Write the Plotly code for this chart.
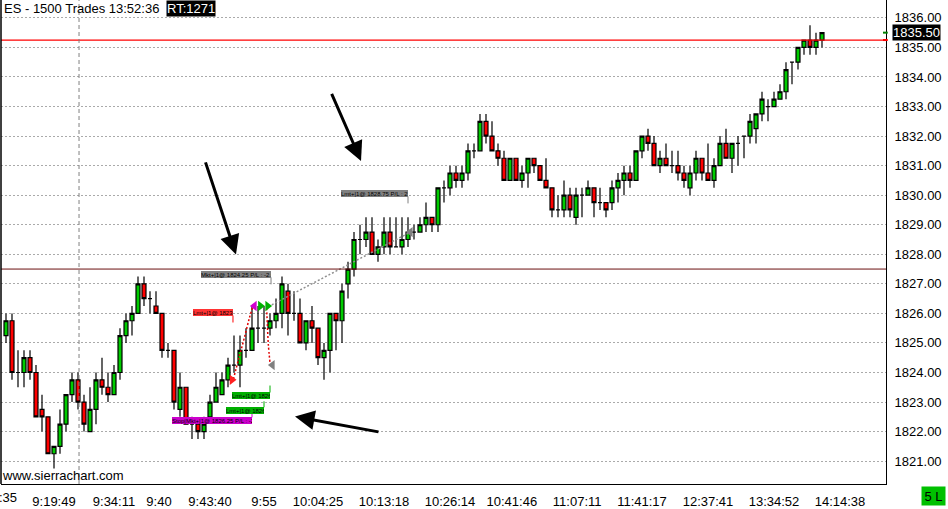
import plotly.graph_objects as go

# ---------------- data ----------------
bar_index = list(range(137))
opens = [1825.25,1825.75,1824.00,1824.00,1824.50,1824.00,1822.75,1822.50,1821.25,1821.50,
         1822.25,1823.25,1823.75,1823.00,1822.00,1822.75,1823.75,1823.50,1823.25,1824.00,
         1825.25,1825.75,1826.00,1827.00,1826.50,1826.25,1826.00,1824.75,1824.75,1822.75,
         1823.50,1822.25,1822.25,1822.00,1822.50,1823.00,1823.25,1823.75,1824.25,1824.25,
         1824.75,1824.75,1825.50,1825.50,1825.50,1825.75,1826.00,1826.75,1826.00,1826.00,
         1825.00,1825.75,1825.50,1824.50,1824.75,1826.00,1825.75,1827.00,1827.50,1828.50,
         1828.50,1828.75,1828.00,1828.25,1828.75,1828.25,1828.25,1828.50,1828.75,1828.75,
         1829.00,1829.25,1829.00,1830.25,1830.25,1830.75,1830.50,1830.75,1831.50,1831.50,
         1832.50,1832.00,1831.50,1831.25,1830.50,1831.25,1830.50,1830.75,1831.25,1831.00,
         1830.50,1830.25,1829.50,1829.50,1830.00,1829.25,1830.00,1830.00,1830.25,1829.75,
         1829.75,1829.75,1830.25,1830.50,1830.75,1830.50,1831.50,1832.00,1831.75,1831.00,
         1831.25,1831.00,1831.00,1830.75,1830.25,1830.75,1831.25,1830.75,1830.50,1831.00,
         1831.75,1831.25,1831.75,1832.00,1832.00,1832.25,1832.75,1833.00,1833.00,1833.25,
         1833.50,1834.50,1834.50,1835.00,1835.25,1835.00,1835.25]
highs = [1826.00,1826.00,1824.75,1824.75,1824.75,1824.25,1823.25,1822.50,1821.50,1822.75,
         1823.25,1824.00,1824.00,1823.25,1823.50,1824.00,1824.50,1824.00,1824.25,1825.50,
         1826.00,1826.25,1827.25,1827.25,1826.75,1826.75,1826.00,1825.00,1824.75,1824.00,
         1823.50,1822.50,1822.25,1822.50,1823.25,1824.00,1824.00,1824.50,1825.25,1825.25,
         1825.50,1826.25,1826.25,1826.25,1826.00,1826.50,1827.25,1827.00,1826.75,1826.50,
         1825.75,1826.25,1825.50,1825.00,1826.00,1826.00,1827.00,1827.75,1828.75,1829.00,
         1829.25,1829.25,1828.50,1829.25,1829.25,1829.25,1829.25,1829.25,1829.00,1829.25,
         1829.75,1829.25,1830.25,1830.50,1831.00,1831.00,1831.00,1831.75,1831.75,1832.75,
         1832.75,1832.50,1831.75,1831.50,1831.25,1831.25,1831.00,1831.25,1831.25,1831.00,
         1831.25,1830.25,1830.00,1830.50,1830.25,1830.25,1830.25,1830.50,1830.25,1830.25,
         1829.75,1830.50,1830.75,1831.00,1831.00,1831.50,1832.00,1832.25,1832.00,1831.50,
         1831.75,1831.50,1831.50,1831.00,1831.00,1831.50,1831.25,1831.75,1831.25,1832.00,
         1832.25,1831.75,1832.00,1832.00,1832.75,1832.75,1833.50,1833.25,1833.50,1833.75,
         1834.50,1834.50,1835.00,1835.25,1835.75,1835.50,1835.50]
lows = [1825.00,1823.75,1823.50,1823.50,1823.75,1822.50,1822.00,1821.25,1820.75,1821.25,
        1822.00,1823.00,1822.75,1822.00,1822.00,1822.25,1823.25,1823.00,1823.25,1823.75,
        1825.00,1825.25,1826.00,1826.25,1826.00,1826.00,1824.50,1824.50,1822.75,1822.50,
        1822.25,1821.75,1821.75,1821.75,1822.50,1823.00,1823.25,1823.50,1824.00,1823.50,
        1824.50,1824.75,1825.00,1825.00,1825.25,1825.50,1825.50,1825.25,1825.75,1825.00,
        1824.75,1825.00,1824.25,1823.75,1824.00,1824.75,1825.00,1826.50,1827.25,1828.00,
        1828.25,1828.00,1827.75,1828.00,1828.00,1828.25,1828.00,1828.25,1828.50,1828.75,
        1828.75,1828.75,1828.75,1829.75,1830.00,1830.25,1830.25,1830.50,1831.25,1831.50,
        1831.75,1831.50,1831.00,1830.50,1830.50,1830.50,1830.25,1830.25,1830.75,1830.50,
        1830.25,1829.25,1829.25,1829.25,1829.25,1829.00,1829.25,1830.00,1829.25,1829.50,
        1829.25,1829.50,1829.75,1830.00,1830.25,1830.50,1831.25,1831.50,1831.00,1830.75,
        1831.00,1830.75,1830.50,1830.25,1830.00,1830.50,1830.50,1830.50,1830.25,1831.00,
        1831.25,1830.75,1831.00,1831.25,1831.75,1831.75,1832.50,1832.50,1833.00,1833.25,
        1833.25,1833.75,1834.25,1834.75,1834.75,1834.75,1835.00]
closes = [1825.75,1824.00,1824.00,1824.50,1824.00,1822.50,1822.50,1821.25,1821.50,1822.25,
          1823.25,1823.75,1823.00,1822.25,1822.75,1823.75,1823.50,1823.25,1824.00,1825.25,
          1825.75,1826.00,1827.00,1826.50,1826.50,1826.00,1824.75,1824.75,1823.00,1823.50,
          1822.25,1822.25,1822.00,1822.25,1823.00,1823.50,1823.75,1824.25,1824.25,1824.75,
          1824.75,1825.50,1825.50,1825.50,1825.75,1826.00,1827.00,1826.00,1826.00,1825.00,
          1825.75,1825.50,1824.50,1824.75,1826.00,1825.75,1826.75,1827.50,1828.50,1828.50,
          1828.75,1828.00,1828.25,1828.75,1828.25,1828.25,1828.50,1828.75,1828.75,1829.00,
          1829.25,1829.00,1830.25,1830.25,1830.75,1830.50,1830.75,1831.50,1831.50,1832.50,
          1832.00,1831.50,1831.25,1830.50,1831.25,1830.50,1830.75,1831.25,1831.00,1830.50,
          1830.25,1829.50,1829.50,1830.00,1829.50,1830.00,1830.00,1830.25,1829.75,1829.75,
          1829.50,1830.25,1830.50,1830.75,1830.50,1831.50,1832.00,1831.75,1831.00,1831.25,
          1831.00,1831.00,1830.75,1830.50,1830.75,1831.25,1830.75,1830.50,1831.00,1831.75,
          1831.25,1831.75,1831.75,1832.00,1832.50,1832.75,1833.25,1833.00,1833.25,1833.50,
          1834.25,1834.50,1835.00,1835.25,1835.00,1835.25,1835.50]

tick_pos = [8, 18, 25.5, 34, 43, 52, 63, 74, 84.3, 95.2, 106, 117, 128, 139]
tick_text = ["9:19:49", "9:34:11", "9:40", "9:43:40", "9:55", "10:04:25", "10:13:18",
             "10:26:14", "10:41:46", "11:07:11", "11:41:17", "12:37:41", "13:34:52", "14:14:38"]

last_price = 1835.50
red_level_top = 1835.25
red_level_mid = 1827.50
session_bar = 12.17

# trade fills (bar index, price)
fill_x = [37.67, 41.4, 42.4, 43.6, 44.4, 67.4]
fill_y = [1823.75, 1826.25, 1826.25, 1826.25, 1824.25, 1828.75]

# trade paths
path1_x = [37.89, 38.83, 39.72, 40.56, 41.22]
path1_y = [1823.77, 1824.50, 1825.17, 1825.84, 1826.29]
path2_x = [43.44, 43.56, 43.72, 44.0]
path2_y = [1826.18, 1825.62, 1824.95, 1824.33]
path3_x = [44.3, 67.3]
path3_y = [1826.29, 1828.74]

# order labels: right edge bar, price
label_text = ["Lmt+|1@ 1823.75", "Mkt+|1@ 1824.25 P/L : -2.00P", "Lmt+|1@ 1828.75 P/L : 2.50P",
              "Lmt+|1@ 1826.25", "Lmt+|1@ 1826.25", "Stop|Mkt+|1@ 1826.25 P/L : -2.50P"]
label_x = [37.83, 44.17, 67.0, 44.0, 43.0, 41.0]
label_y = [1826.03, 1827.32, 1830.06, 1823.22, 1822.72, 1822.38]

# hand-drawn arrows: head (bar, price), tail (bar, price)
arrow_head_x = [38.33, 59.17, 48.17]
arrow_head_y = [1827.99, 1831.16, 1822.51]
arrow_tail_x = [33.17, 54.17, 62.33]
arrow_tail_y = [1831.16, 1833.48, 1821.98]

# ---------------- figure ----------------
fig = go.Figure()
fig.add_trace(go.Candlestick(
    x=bar_index, open=opens, high=highs, low=lows, close=closes,
    increasing=dict(fillcolor="#00cc00", line=dict(color="black", width=1.2)),
    decreasing=dict(fillcolor="#ff0000", line=dict(color="black", width=1.2)),
    whiskerwidth=0, showlegend=False, hoverinfo="skip"))

for px, py, col in [(path1_x, path1_y, "#e00000"), (path2_x, path2_y, "#e00000"),
                    (path3_x, path3_y, "#909090")]:
    fig.add_trace(go.Scatter(x=px, y=py, mode="lines", showlegend=False, hoverinfo="skip",
                             line=dict(color=col, width=1.5, dash="2px,2px", shape="spline")))

fill_symbols = ["triangle-right", "triangle-left", "triangle-right", "triangle-right",
                "triangle-left", "triangle-left"]
fill_colors = ["#ff2020", "#d000d0", "#00b000", "#00b000", "#808080", "#808080"]
fig.add_trace(go.Scatter(x=fill_x, y=fill_y, mode="markers", showlegend=False, hoverinfo="skip",
                         marker=dict(symbol=fill_symbols, color=fill_colors, size=9,
                                     line=dict(width=0))))

shapes = [
    dict(type="line", xref="paper", yref="y", x0=0, x1=1, y0=red_level_top, y1=red_level_top,
         line=dict(color="#ff0000", width=1.2)),
    dict(type="line", xref="paper", yref="y", x0=0, x1=1, y0=red_level_mid, y1=red_level_mid,
         line=dict(color="#6a1010", width=1)),
    dict(type="line", xref="x", yref="paper", x0=session_bar, x1=session_bar, y0=0, y1=1,
         line=dict(color="#808080", width=1, dash="4px,3px")),
    dict(type="line", xref="paper", yref="paper", x0=0, x1=0, y0=0, y1=1,
         line=dict(color="black", width=1.5)),
    dict(type="line", xref="paper", yref="y", x0=0.9966, x1=1.002, y0=last_price, y1=last_price,
         line=dict(color="#008000", width=2)),
    dict(type="line", xref="paper", yref="y", x0=0.9966, x1=1.002, y0=red_level_top,
         y1=red_level_top, line=dict(color="#ff0000", width=2)),
]

label_bg = ["#ff3333", "#808080", "#808080", "#00b000", "#00b000", "#cc00cc"]
label_w = [40, 70, 67, 38, 38, 80]
label_tick = [(-3, -10), (-3, -10), (-3, -10), (3, 10), (3, 9), (3, 9)]
label_tick_col = ["#ff0000", "#808080", "#808080", "#00b000", "#00b000", "#cc00cc"]

annotations = []
for t, x, y, bg, w, tk, tc in zip(label_text, label_x, label_y, label_bg, label_w,
                                  label_tick, label_tick_col):
    annotations.append(dict(x=x, y=y, xref="x", yref="y", text=t, showarrow=False,
                            xanchor="right", yanchor="middle", width=w, height=7,
                            bgcolor=bg, borderpad=0, borderwidth=0, align="left",
                            font=dict(family="Liberation Sans Narrow, Liberation Sans, Arial",
                                      size=6, color="black")))
    shapes.append(dict(type="line", xref="x", yref="y", ysizemode="pixel", yanchor=y,
                       x0=x, x1=x, y0=tk[0], y1=tk[1], line=dict(color=tc, width=1)))

for hx, hy, tx, ty in zip(arrow_head_x, arrow_head_y, arrow_tail_x, arrow_tail_y):
    annotations.append(dict(x=hx, y=hy, xref="x", yref="y", ax=tx, ay=ty, axref="x", ayref="y",
                            text="", showarrow=True, arrowhead=2, arrowsize=1.3,
                            arrowwidth=3, arrowcolor="black", standoff=0, startstandoff=0))

annotations += [
    dict(x=0.00226, y=1, xref="paper", yref="paper", xanchor="left", yanchor="top",
         text="ES - 1500 Trades 13:52:36", showarrow=False, borderpad=0,
         font=dict(size=13, color="black")),
    dict(x=0.1864, y=1, xref="paper", yref="paper", xanchor="left", yanchor="top",
         text="RT:1271", showarrow=False, bgcolor="black", borderpad=0,
         font=dict(size=13, color="white")),
    dict(x=0.0, y=0, xref="paper", yref="paper", xanchor="left", yanchor="bottom",
         text="www.sierrachart.com", showarrow=False, borderpad=0,
         font=dict(size=13, color="black")),
    dict(x=1, y=last_price, xref="paper", yref="y", xanchor="left", yanchor="middle", xshift=6,
         text="%.2f" % last_price, showarrow=False, bgcolor="black", borderpad=0,
         font=dict(size=13, color="white")),
    dict(x=0.0192, y=0, xref="paper", yref="paper", xanchor="right", yanchor="top", yshift=-5,
         text=":35", showarrow=False, borderpad=0, font=dict(size=13, color="black")),
    dict(x=1.0537, y=-0.0246, xref="paper", yref="paper", xanchor="center", yanchor="middle",
         text="5 L", showarrow=False, bgcolor="#00c000", width=23, height=18, borderpad=0,
         font=dict(size=13, color="black")),
]

fig.update_layout(
    width=948, height=509, margin=dict(l=1, r=62, t=0, b=22),
    paper_bgcolor="white", plot_bgcolor="white", showlegend=False,
    boxgap=0.2, boxgroupgap=0.17,
    font=dict(family="Liberation Sans, Arial", size=13, color="black"),
    shapes=shapes, annotations=annotations,
    xaxis=dict(range=[-0.833, 146.667], tickmode="array", tickvals=tick_pos, ticktext=tick_text,
               showgrid=False, zeroline=False, showline=True, linecolor="black", linewidth=1,
               ticks="", rangeslider=dict(visible=False), ticklabelstandoff=5,
               tickfont=dict(size=13, color="black")),
    yaxis=dict(side="right", range=[1820.226, 1836.605], tick0=1821, dtick=1, tickformat=".2f",
               showgrid=True, gridcolor="#aaaaaa", griddash="2px,2px", gridwidth=1,
               showline=True, linecolor="black", linewidth=1, ticks="", zeroline=False,
               ticklabelstandoff=5, tickfont=dict(size=13, color="black")),
)

fig.write_html("out.html", config={"displayModeBar": False, "staticPlot": True},
               post_script="document.body.style.margin='0';document.body.style.overflow='hidden';")
